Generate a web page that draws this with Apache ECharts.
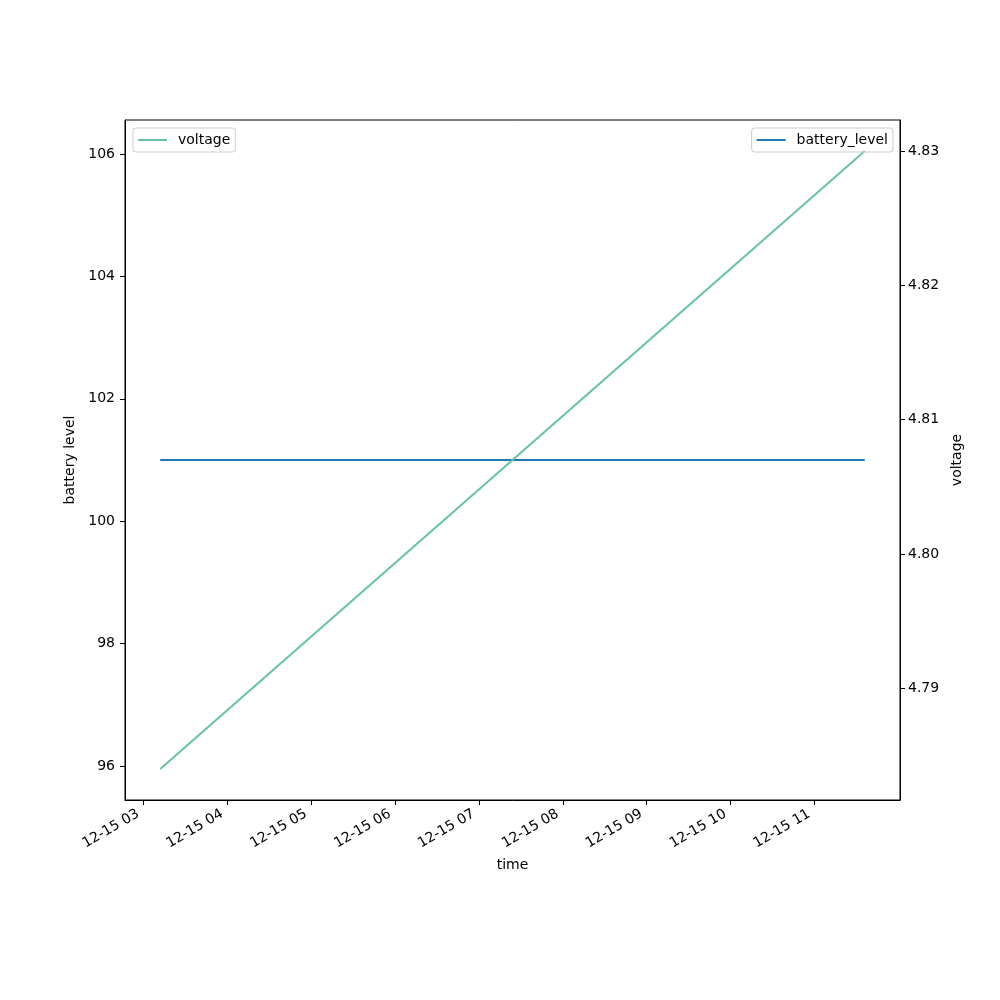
<!DOCTYPE html>
<html><head><meta charset="utf-8">
<script src="https://cdn.jsdelivr.net/npm/echarts@6/dist/echarts.min.js"></script>
<style>html,body{margin:0;padding:0;background:#fff}#c{width:1000px;height:1000px}</style>
</head><body><div id="c"></div>
<script>
const times = ['2023-12-15 03:12', '2023-12-15 11:36'];
const batteryLevel = [101, 101];
const voltage = [4.784, 4.830];
const xTickLabels = ['12-15 03','12-15 04','12-15 05','12-15 06','12-15 07','12-15 08','12-15 09','12-15 10','12-15 11'];
const leftTicks = [96, 98, 100, 102, 104, 106];
const rightTicks = [4.79, 4.80, 4.81, 4.82, 4.83];

const toMs = s => { const [d, t] = s.split(' '); const [Y, M, D] = d.split('-').map(Number); const [h, m] = t.split(':').map(Number); return Date.UTC(Y, M - 1, D, h, m); };
const pad = n => String(n).padStart(2, '0');
const fmt = v => { const d = new Date(v); return pad(d.getUTCMonth() + 1) + '-' + pad(d.getUTCDate()) + ' ' + pad(d.getUTCHours()); };
const year = times[0].slice(0, 4);
const xTicks = xTickLabels.map(l => toMs(year + '-' + l + ':00'));
const tMs = times.map(toMs);
const span = tMs[tMs.length - 1] - tMs[0];
const xMin = tMs[0] - 0.05 * span, xMax = tMs[tMs.length - 1] + 0.05 * span;

const font = 'DejaVu Sans';
const FS = 14;
const legendCommon = {orient: 'vertical', padding: [5, 5, 5, 5], borderColor: '#cccccc', borderWidth: 1, borderRadius: 3,
  icon: 'rect', itemWidth: 29, itemHeight: 2, textStyle: {fontFamily: font, fontSize: FS, color: '#000', padding: [0, 0, 0, 6]}};
const chart = echarts.init(document.getElementById('c'), null, {renderer: 'canvas'});
chart.setOption({
  backgroundColor: '#fff',
  animation: false,
  textStyle: {fontFamily: font},
  grid: {left: 125, right: 100, top: 120, bottom: 200, show: true, borderColor: '#000', borderWidth: 1, containLabel: false},
  legend: [
    Object.assign({data: ['voltage'], left: 133, top: 128}, legendCommon),
    Object.assign({data: ['battery_level'], right: 107, top: 128}, legendCommon)
  ],
  xAxis: {
    type: 'value', min: xMin, max: xMax,
    name: 'time', nameLocation: 'middle', nameGap: 58, nameTextStyle: {fontFamily: font, fontSize: FS, color: '#000'},
    axisLine: {show: true, lineStyle: {color: '#000', width: 1}},
    axisTick: {show: true, length: 5, lineStyle: {color: '#000'}, customValues: xTicks},
    axisLabel: {show: true, rotate: 30, margin: 10, padding: [0, 6, 0, 0], fontFamily: font, fontSize: FS, color: '#000', customValues: xTicks, formatter: fmt},
    splitLine: {show: false}
  },
  yAxis: [
    {type: 'value', position: 'left', min: 95.445, max: 106.555,
     name: 'battery level', nameLocation: 'middle', nameGap: 43, nameRotate: 90, nameTextStyle: {fontFamily: font, fontSize: FS, color: '#000'},
     axisLine: {show: true, lineStyle: {color: '#000'}},
     axisTick: {show: true, length: 5, lineStyle: {color: '#000'}, customValues: leftTicks},
     axisLabel: {show: true, margin: 10, fontFamily: font, fontSize: FS, color: '#000', customValues: leftTicks, formatter: v => String(Math.round(v))},
     splitLine: {show: false}},
    {type: 'value', position: 'right', min: 4.7817, max: 4.8323,
     name: 'voltage', nameLocation: 'middle', nameGap: 46, nameRotate: 90, nameTextStyle: {fontFamily: font, fontSize: FS, color: '#000'},
     axisLine: {show: true, lineStyle: {color: '#000'}},
     axisTick: {show: true, length: 5, lineStyle: {color: '#000'}, customValues: rightTicks},
     axisLabel: {show: true, margin: 8, fontFamily: font, fontSize: FS, color: '#000', customValues: rightTicks, formatter: v => v.toFixed(2)},
     splitLine: {show: false}}
  ],
  series: [
    {name: 'battery_level', type: 'line', yAxisIndex: 0, symbol: 'none', color: '#1f77b4', lineStyle: {width: 2, color: '#1f77b4'},
     data: tMs.map((t, i) => [t, batteryLevel[i]])},
    {name: 'voltage', type: 'line', yAxisIndex: 1, symbol: 'none', color: '#66c2a5', lineStyle: {width: 2, color: '#66c2a5'},
     data: tMs.map((t, i) => [t, voltage[i]])}
  ]
});
</script></body></html>
